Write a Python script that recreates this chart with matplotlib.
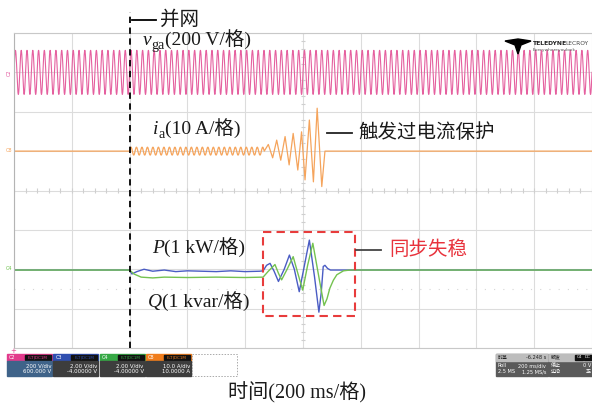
import matplotlib.pyplot as plt
import numpy as np
from matplotlib.patches import Rectangle, Polygon

plt.rcParams['font.family'] = ['Liberation Serif', 'Noto Sans CJK SC']
ui_font = ['DejaVu Sans', 'Noto Sans CJK SC']

# screen: 10 div x 200 ms, 8 div vertical (values below are in div)
t_end = 2000
t_grid = 400          # 并网 instant, ms

# v_ga : 50 Hz carrier on +3 div
vga_center = 3.0
vga_amp = 0.56
vga_period = 20.0

# i_a : small ripple after 并网, then growing oscillation until the trip
ia_center = 1.0
ia_ripple_amp = 0.1
ia_ripple_period = 19.0
ia_ripple_end = 866
ia_t = [866, 880, 895, 909, 923, 938, 952, 966, 982, 995, 1007, 1022, 1036, 1049, 1065, 1076, 2000]
ia_v = [1.0, 1.17, 0.83, 1.28, 0.77, 1.37, 0.65, 1.45, 0.52, 1.49, 0.27, 1.79, 0.22, 2.09, 0.10, 1.0, 1.0]

# P (blue) and Q (green), on -2 div
p_t = [0, 400, 408, 425, 450, 480, 520, 560, 600, 650, 700, 750, 800, 850, 862,
       874, 886, 900, 915, 935, 953, 970, 987, 1005, 1022, 1040, 1055, 1063, 1070,
       1076, 1085, 1095, 2000]
p_v = [-2.02, -2.02, -2.12, -2.06, -2.0, -2.05, -2.02, -2.06, -2.04, -2.05, -2.06, -2.04, -2.06, -2.05, -2.04,
       -1.9, -1.85, -2.05, -2.31, -2.0, -1.64, -2.0, -2.57, -1.9, -1.26, -2.2, -3.09, -2.6, -1.93,
       -1.9, -1.98, -2.02, -2.02]
q_t = [0, 400, 415, 440, 480, 520, 600, 700, 800, 862, 880, 903, 915, 926, 945, 966, 982, 999,
       1016, 1034, 1055, 1073, 1083, 1093, 1105, 1117, 1140, 1163, 2000]
q_v = [-2.02, -2.02, -2.12, -2.2, -2.22, -2.2, -2.21, -2.2, -2.21, -2.2, -2.05, -1.88, -2.1, -2.27, -2.0,
       -1.68, -2.1, -2.53, -1.9, -1.34, -2.2, -2.92, -2.75, -2.48, -2.28, -2.14, -2.04, -2.02, -2.02]

# oscilloscope channel boxes
chan_names = ['C2', 'C3', 'C4', 'C8']
chan_colors = ['#e23a8c', '#2f4fb0', '#36a845', '#f07d1c']
chan_scale = ['200 V/div', '2.00 V/div', '2.00 V/div', '10.0 A/div']
chan_offset = ['600.000 V', '-4.00000 V', '-4.00000 V', '10.0000 A']

fig = plt.figure(figsize=(5.92, 4.03), dpi=100)
ax = fig.add_axes([14 / 592, 1 - 348 / 403, 578 / 592, 315 / 403])
ax.set_xlim(0, t_end)
ax.set_ylim(-4, 4)
ax.set_xticks(np.arange(0, t_end + 1, 200))
ax.set_yticks(np.arange(-4, 5, 1))
ax.grid(color='#dcdcdc', lw=0.8)
ax.tick_params(length=0, labelbottom=False, labelleft=False)
for s in ['top', 'bottom']:
    ax.spines[s].set_color('#c8c8c8')
ax.spines['left'].set_color('#b4b4b4')
ax.spines['right'].set_visible(False)

# centre cross ticks
ax.vlines(np.arange(0, t_end + 1, 40), -0.06, 0.06, color='#cfcfcf', lw=0.8)
ax.hlines(np.arange(-4, 4.01, 0.2), 993, 1007, color='#cfcfcf', lw=0.8)
ax.hlines(-2.5, 0, t_end, color='#d6d6d6', lw=0.8, linestyles=(0, (1, 7.3)))

# traces
t = np.linspace(0, t_end, 12001)
ax.plot(t, vga_center + vga_amp * np.sin(2 * np.pi * t / vga_period), color='#e5609f', lw=0.8)

tr = np.arange(t_grid, ia_ripple_end, 0.5)
ia_all_t = np.concatenate([[0, t_grid], tr, ia_t])
ia_all_v = np.concatenate([[ia_center, ia_center],
                           ia_center + ia_ripple_amp * np.sin(2 * np.pi * (tr - t_grid) / ia_ripple_period),
                           ia_v])
ax.plot(ia_all_t, ia_all_v, color='#f5a45c', lw=0.9)

ax.plot(p_t, p_v, color='#4a5cc4', lw=1.0)
ax.plot(q_t, q_v, color='#74c250', lw=1.0)

# 并网 dashed line (runs above the screen)
ax.axvline(t_grid, ymin=0, ymax=(348 - 12) / 315, clip_on=False, color='black',
           lw=1.3, ls=(0, (3.5, 2.5)), zorder=5)

# overlay in pixel coordinates for annotations and scope UI
ov = fig.add_axes([0, 0, 1, 1], zorder=10)
ov.set_xlim(0, 592)
ov.set_ylim(403, 0)
ov.axis('off')
ov.patch.set_alpha(0)

txt = '#1a1a1a'


def sub_label(x, y, main, sub, rest, size=14):
    a = ov.text(x, y, main, fontsize=size, style='italic', va='baseline', color=txt)
    prev = a
    if sub:
        prev = ov.annotate(sub, xy=(1, y + 4), xycoords=(a, 'data'), fontsize=size * 0.72,
                           va='baseline', ha='left', color=txt)
    ov.annotate(rest, xy=(1, y), xycoords=(prev, 'data'), fontsize=size,
                va='baseline', ha='left', color=txt)


sub_label(143, 45, 'v', 'ga', '(200 V/格)')
sub_label(153, 134, 'i', 'a', '(10 A/格)')
sub_label(152, 253, 'P', None, '(1 kW/格)')
sub_label(148, 307, 'Q', None, '(1 kvar/格)')

ov.plot([132, 156], [20, 20], color='black', lw=1.3)
ov.text(160, 20, '并网', fontsize=14, va='center', color=txt)
ov.plot([327, 352], [133, 133], color='#222222', lw=1.3)
ov.text(358, 133, '触发过电流保护', fontsize=14, va='center', color=txt)
ov.plot([356, 381], [250, 250], color='#444444', lw=1.3)
ov.text(389, 250, '同步失稳', fontsize=14, va='center', color='#e8323c')
ov.add_patch(Rectangle((263, 232), 92, 84, fill=False, ec='#e83c3c', lw=1.5, ls=(0, (4, 2.5))))
ov.text(228, 393, '时间(200 ms/格)', fontsize=14.5, va='center', color=txt)

# channel markers on the left edge
ov.text(9, 73, 'C2', fontsize=3.5, color='#e2559d', rotation=90, va='center', ha='center', family=ui_font)
ov.text(9, 151, 'C8', fontsize=3.5, color='#f5a45c', va='center', ha='center', family=ui_font)
ov.text(9, 268, 'C4', fontsize=3.5, color='#6cc04a', va='center', ha='center', family=ui_font)
ov.text(13, 351, '+', fontsize=5, color='#e23a8c', va='center', ha='center', family=ui_font)

# logo
ov.add_patch(Polygon([[505, 41], [518, 39], [531, 41], [521, 45], [518, 54], [515, 45]], color='black'))
ov.text(533, 43.5, 'TELEDYNE', fontsize=4.4, weight='bold', va='center', family=ui_font, color='#222')
ov.text(565, 43.5, 'LECROY', fontsize=4.2, va='center', family=ui_font, color='#444')
ov.text(533, 50, 'Everywhereyoulook', fontsize=3.2, va='center', family=ui_font, color='#555')

# channel boxes
for i, (name, col, sc, off) in enumerate(zip(chan_names, chan_colors, chan_scale, chan_offset)):
    x0 = 7 + i * 46.3
    ov.add_patch(Rectangle((x0, 354), 45, 7, color=col))
    ov.add_patch(Rectangle((x0 + 18, 354.8), 26, 5.4, color='#111111'))
    ov.text(x0 + 2, 357.5, name, fontsize=3.6, color='white', va='center', family=ui_font)
    ov.text(x0 + 31, 357.5, 'FLT|DC1M', fontsize=3.0, color=col, va='center', ha='center', family=ui_font)
    body = '#3f6389' if i == 0 else '#3d3d3d'
    ov.add_patch(Rectangle((x0, 361), 45, 15, color=body))
    ov.text(x0 + 44, 365.5, sc, fontsize=3.9, color='white', va='center', ha='right', family=ui_font)
    ov.text(x0 + 44, 371.8, off, fontsize=3.9, color='white', va='center', ha='right', family=ui_font)
ov.add_patch(Rectangle((192, 354), 45, 22, fill=False, ec='#aaaaaa', lw=0.7, ls=(0, (1.5, 1.5))))

# timebase / trigger boxes
ov.add_patch(Rectangle((496, 354), 52, 22, color='#5a5a5a'))
ov.add_patch(Rectangle((496, 354), 52, 7, color='#bdbdbd'))
ov.text(498, 357.5, '时基', fontsize=3.6, color='#222', va='center', family=ui_font)
ov.text(546, 357.5, '-6.248 s', fontsize=3.6, color='#222', va='center', ha='right', family=ui_font)
ov.text(498, 365.5, 'Roll', fontsize=3.6, color='white', va='center', family=ui_font)
ov.text(546, 365.5, '200 ms/div', fontsize=3.6, color='white', va='center', ha='right', family=ui_font)
ov.text(498, 371.8, '2.5 MS', fontsize=3.6, color='white', va='center', family=ui_font)
ov.text(546, 371.8, '1.25 MS/s', fontsize=3.6, color='white', va='center', ha='right', family=ui_font)
ov.add_patch(Rectangle((549, 354), 43, 22, color='#5a5a5a'))
ov.add_patch(Rectangle((549, 354), 43, 7, color='#bdbdbd'))
ov.text(551, 357.5, '触发', fontsize=3.6, color='#222', va='center', family=ui_font)
ov.add_patch(Rectangle((575, 354.8), 8, 5.4, color='#111111'))
ov.add_patch(Rectangle((584, 354.8), 8, 5.4, color='#111111'))
ov.text(579, 357.5, 'C4', fontsize=3.0, color='white', va='center', ha='center', family=ui_font)
ov.text(588, 357.5, 'DC', fontsize=3.0, color='white', va='center', ha='center', family=ui_font)
ov.text(551, 365.5, '停止', fontsize=3.6, color='white', va='center', family=ui_font)
ov.text(591, 365.5, '0 V', fontsize=3.6, color='white', va='center', ha='right', family=ui_font)
ov.text(551, 371.8, '边沿', fontsize=3.6, color='white', va='center', family=ui_font)
ov.text(591, 371.8, '正', fontsize=3.6, color='white', va='center', ha='right', family=ui_font)

fig.savefig('out.png', dpi=100)
